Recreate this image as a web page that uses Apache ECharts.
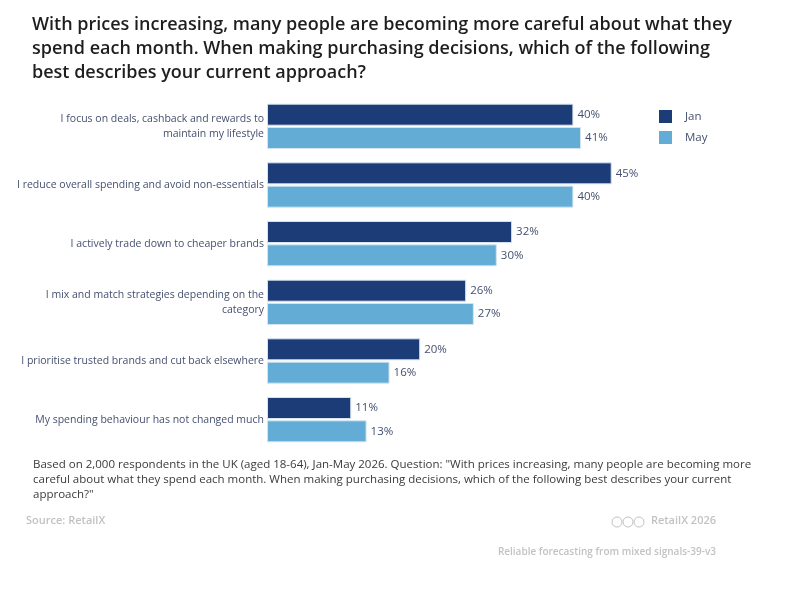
<!DOCTYPE html>
<html>
<head>
<meta charset="utf-8">
<script src="https://cdn.jsdelivr.net/npm/echarts@6/dist/echarts.min.js"></script>
<style>
  html,body{margin:0;padding:0;background:#fff;}
  #chart{width:804px;height:596px;}
</style>
</head>
<body>
<div id="chart"></div>
<script>
// data
var categories = [
  'I focus on deals, cashback and rewards to\nmaintain my lifestyle',
  'I reduce overall spending and avoid non-essentials',
  'I actively trade down to cheaper brands',
  'I mix and match strategies depending on the\ncategory',
  'I prioritise trusted brands and cut back elsewhere',
  'My spending behaviour has not changed much'
];
var janValues = [40, 45, 32, 26, 20, 11];
var mayValues = [41, 40, 30, 27, 16, 13];
var seriesNames = ['Jan', 'May'];

var titleText = 'With prices increasing, many people are becoming more careful about what they\n' +
  'spend each month. When making purchasing decisions, which of the following\n' +
  'best describes your current approach?';
var noteText = 'Based on 2,000 respondents in the UK (aged 18-64), Jan-May 2026. Question: "With prices increasing, many people are becoming more\n' +
  'careful about what they spend each month. When making purchasing decisions, which of the following best describes your current\n' +
  'approach?"';

var FONT = '"Open Sans", sans-serif';
var labelColor = '#44506f';

var chart = echarts.init(document.getElementById('chart'));

function barSeries(name, values, color) {
  return {
    name: name,
    type: 'bar',
    data: values,
    barWidth: 22,
    barGap: '6%',
    itemStyle: { color: color, borderColor: '#d4e3ef', borderWidth: 1 },
    label: {
      show: true,
      position: 'right',
      distance: 4,
      formatter: '{c}%',
      color: labelColor,
      fontFamily: FONT,
      fontSize: 11.5
    },
    emphasis: { disabled: true }
  };
}

chart.setOption({
  animation: false,
  backgroundColor: '#fff',
  textStyle: { fontFamily: FONT },
  title: {
    text: titleText,
    left: 27,
    top: 8,
    textStyle: {
      fontFamily: FONT,
      fontSize: 18,
      fontWeight: 600,
      color: '#1e1e1e',
      lineHeight: 24
    }
  },
  legend: {
    data: seriesNames,
    orient: 'vertical',
    left: 654,
    top: 105,
    itemWidth: 13,
    itemHeight: 13,
    itemGap: 8,
    icon: 'rect',
    itemStyle: { borderWidth: 0 },
    textStyle: { color: labelColor, fontFamily: FONT, fontSize: 11.5, padding: [0, 0, 0, 8] }
  },
  grid: { left: 267, top: 97, width: 383, height: 352 },
  xAxis: {
    type: 'value',
    min: 0,
    max: 50,
    show: false
  },
  yAxis: {
    type: 'category',
    data: categories,
    inverse: true,
    axisLine: { show: false },
    axisTick: { show: false },
    axisLabel: {
      margin: 3,
      color: labelColor,
      fontFamily: FONT,
      fontSize: 10.5,
      lineHeight: 15,
      align: 'right'
    }
  },
  series: [
    barSeries(seriesNames[0], janValues, '#1c3c78'),
    barSeries(seriesNames[1], mayValues, '#63acd6')
  ],
  graphic: [
    {
      type: 'text', left: 33, top: 457,
      style: { text: noteText, fill: '#3a3a3a', font: '11.5px "Open Sans", sans-serif', lineHeight: 15 }
    },
    {
      type: 'text', left: 26, top: 515,
      style: { text: 'Source: RetailX', fill: '#c2c2c2', font: '600 11px "Open Sans", sans-serif' }
    },
    {
      type: 'text', right: 88, top: 515,
      style: { text: 'RetailX 2026', fill: '#c2c2c2', font: '600 11px "Open Sans", sans-serif' }
    },
    { type: 'circle', shape: { cx: 617, cy: 522, r: 5 }, style: { fill: 'none', stroke: '#c2c2c2', lineWidth: 1 } },
    { type: 'circle', shape: { cx: 628, cy: 522, r: 5 }, style: { fill: 'none', stroke: '#c2c2c2', lineWidth: 1 } },
    { type: 'circle', shape: { cx: 639, cy: 522, r: 5 }, style: { fill: 'none', stroke: '#c2c2c2', lineWidth: 1 } },
    {
      type: 'text', right: 88, top: 547,
      style: { text: 'Reliable forecasting from mixed signals-39-v3', fill: '#c2c2c2', font: '600 10px "Open Sans", sans-serif' }
    }
  ]
});
</script>
</body>
</html>
